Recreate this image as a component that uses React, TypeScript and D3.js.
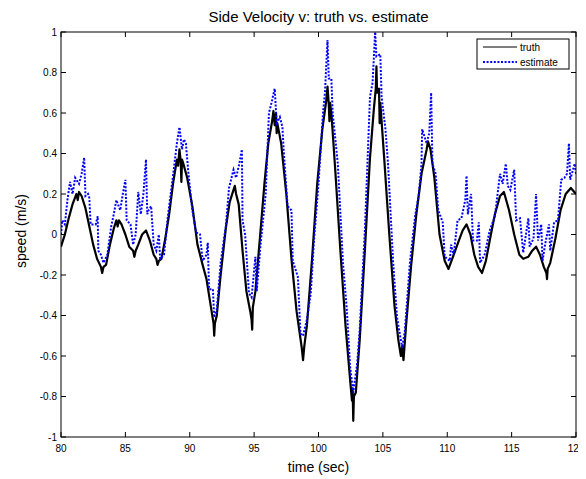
import React from "react";
import * as d3 from "d3";

const truthT = [80.0,80.3,80.6,80.9,81.2,81.3,81.4,81.6,81.9,82.2,82.5,82.8,83.1,83.2,83.3,83.5,83.8,84.1,84.3,84.4,84.5,84.7,85.0,85.3,85.6,85.7,85.8,86.0,86.3,86.6,86.9,87.2,87.4,87.5,87.6,87.8,88.1,88.4,88.7,89.0,89.1,89.2,89.3,89.35,89.4,89.5,89.8,90.2,90.6,91.0,91.3,91.6,91.85,91.9,91.95,92.1,92.4,92.8,93.1,93.4,93.5,93.6,93.8,94.1,94.4,94.7,94.8,94.85,94.9,95.1,95.5,95.8,96.1,96.4,96.5,96.6,96.7,96.75,96.8,97.1,97.5,97.9,98.3,98.7,98.8,98.9,99.1,99.5,99.9,100.3,100.6,100.7,100.8,100.85,100.9,101.0,101.3,101.7,102.1,102.5,102.6,102.65,102.7,102.75,102.9,103.2,103.6,104.0,104.3,104.45,104.5,104.55,104.7,104.75,104.8,105.1,105.5,105.9,106.2,106.4,106.5,106.6,106.8,107.2,107.6,108.0,108.4,108.5,108.7,109.0,109.4,109.8,110.1,110.5,110.9,111.2,111.5,111.8,112.1,112.4,112.7,113.0,113.3,113.7,114.1,114.4,114.8,115.2,115.6,115.9,116.3,116.6,116.9,117.2,117.5,117.7,117.75,117.8,118.0,118.4,118.8,119.2,119.6,120.0];
const truthV = [-0.06,0.0,0.08,0.15,0.2,0.17,0.21,0.19,0.13,0.04,-0.05,-0.12,-0.16,-0.19,-0.16,-0.15,-0.05,0.03,0.07,0.04,0.07,0.05,0.0,-0.06,-0.08,-0.11,-0.08,-0.05,0.0,0.02,-0.03,-0.1,-0.12,-0.15,-0.13,-0.12,-0.02,0.1,0.25,0.37,0.34,0.42,0.36,0.26,0.37,0.35,0.28,0.14,-0.05,-0.15,-0.22,-0.34,-0.44,-0.5,-0.44,-0.4,-0.2,0.03,0.16,0.22,0.24,0.2,0.15,-0.08,-0.28,-0.38,-0.42,-0.47,-0.36,-0.28,0.02,0.25,0.45,0.56,0.61,0.54,0.6,0.5,0.55,0.45,0.2,-0.12,-0.38,-0.56,-0.62,-0.55,-0.45,-0.12,0.25,0.52,0.66,0.73,0.64,0.56,0.65,0.6,0.32,-0.08,-0.45,-0.75,-0.82,-0.76,-0.92,-0.8,-0.78,-0.52,-0.08,0.38,0.62,0.72,0.83,0.7,0.72,0.55,0.65,0.38,0.0,-0.35,-0.52,-0.6,-0.55,-0.62,-0.45,-0.15,0.1,0.3,0.42,0.46,0.42,0.28,0.0,-0.13,-0.17,-0.1,-0.03,0.02,0.05,0.0,-0.1,-0.16,-0.19,-0.13,-0.03,0.1,0.19,0.21,0.12,0.0,-0.1,-0.12,-0.11,-0.08,-0.06,-0.1,-0.16,-0.19,-0.22,-0.17,-0.14,-0.02,0.12,0.2,0.23,0.2];

const estT = [80.0,80.1,80.3,80.5,80.7,80.9,81.1,81.4,81.6,81.8,81.9,82.1,82.2,82.3,82.7,82.85,82.9,83.1,83.3,83.6,83.9,84.1,84.3,84.6,84.8,85.0,85.1,85.4,85.6,85.8,86.0,86.2,86.4,86.6,86.7,86.8,87.0,87.2,87.4,87.6,87.7,88.0,88.3,88.7,89.0,89.2,89.4,89.55,89.7,89.9,90.2,90.5,90.8,91.0,91.3,91.4,91.5,91.8,91.9,92.1,92.4,92.8,93.05,93.4,93.6,93.85,94.05,94.1,94.3,94.6,94.8,95.1,95.2,95.5,95.9,96.15,96.35,96.6,96.75,97.0,97.2,97.3,97.6,97.9,98.0,98.4,98.6,98.8,99.1,99.4,99.65,100.0,100.35,100.5,100.7,100.8,101.0,101.1,101.5,101.9,102.2,102.45,102.7,103.0,103.2,103.6,104.0,104.2,104.4,104.5,104.8,104.9,105.2,105.4,105.8,106.1,106.5,106.7,107.1,107.5,107.8,108.0,108.05,108.4,108.6,108.75,108.85,109.1,109.3,109.65,109.8,110.2,110.3,110.5,110.8,111.1,111.4,111.5,111.6,111.85,112.0,112.3,112.45,112.55,112.9,113.3,113.7,114.1,114.3,114.55,114.7,114.9,115.2,115.35,115.65,115.9,116.3,116.4,116.7,116.9,117.05,117.3,117.4,117.6,117.9,118.0,118.3,118.6,118.85,119.1,119.3,119.45,119.55,119.9,120.0];
const estV = [0.0,0.07,0.05,0.17,0.26,0.2,0.28,0.25,0.3,0.38,0.19,0.2,0.18,0.05,0.05,0.09,-0.08,-0.1,-0.14,-0.1,0.04,0.1,0.17,0.12,0.2,0.27,0.07,0.05,-0.05,0.0,0.21,0.1,0.2,0.37,0.1,0.12,0.14,-0.05,-0.08,0.0,-0.12,-0.1,0.09,0.29,0.45,0.53,0.42,0.47,0.45,0.3,0.12,0.01,0.0,-0.13,-0.1,-0.04,-0.27,-0.27,-0.41,-0.37,-0.14,0.04,0.23,0.32,0.28,0.35,0.42,0.07,0.0,-0.29,-0.31,-0.11,-0.28,-0.05,0.2,0.6,0.65,0.72,0.55,0.58,0.53,0.41,0.14,0.12,-0.13,-0.21,-0.49,-0.5,-0.42,-0.29,-0.03,0.25,0.6,0.7,0.96,0.77,0.77,0.6,0.35,-0.14,-0.37,-0.65,-0.78,-0.64,-0.47,0.02,0.68,0.75,1.0,0.88,0.89,0.68,0.52,0.35,-0.14,-0.41,-0.56,-0.48,-0.14,0.09,0.2,0.35,0.52,0.45,0.5,0.7,0.35,0.3,0.12,0.06,-0.11,-0.13,-0.05,-0.1,0.07,0.08,0.17,0.29,0.1,0.2,-0.03,-0.03,0.06,-0.14,-0.1,0.02,0.09,0.3,0.25,0.35,0.24,0.22,0.32,0.07,0.08,-0.09,0.08,-0.06,-0.02,0.2,-0.03,0.05,-0.13,-0.05,0.05,-0.08,0.06,0.07,0.27,0.28,0.3,0.45,0.27,0.35,0.3];

const xTicks = [80, 85, 90, 95, 100, 105, 110, 115, 120];
const yTicks = [-1, -0.8, -0.6, -0.4, -0.2, 0, 0.2, 0.4, 0.6, 0.8, 1];
const legendLabels = ["truth", "estimate"];

const W = 586, H = 479;
const L = 61, R = 576, T = 32, B = 437;
const FONT = "'Liberation Sans', Arial, Helvetica, sans-serif";

export default function App() {
  const x = d3.scaleLinear().domain([80, 120]).range([L, R]);
  const y = d3.scaleLinear().domain([-1, 1]).range([B, T]);
  const line = d3.line<[number, number]>().x(d => x(d[0])).y(d => y(d[1]));
  const truth = truthT.map((t, i) => [t, truthV[i]] as [number, number]);
  const est = estT.map((t, i) => [t, estV[i]] as [number, number]);
  const tl = 5;
  return (
    <svg width={W} height={H} style={{ position: "absolute", left: 0, top: 0, background: "#fff" }} fontFamily={FONT}>
      <rect x={0} y={0} width={W} height={H} fill="#fff" />
      <defs>
        <clipPath id="plot"><rect x={L} y={T} width={R - L} height={B - T} /></clipPath>
        <clipPath id="page"><rect x={0} y={0} width={578} height={H} /></clipPath>
      </defs>
      <g clipPath="url(#plot)">
        <path d={line(truth) || ""} fill="none" stroke="#000" strokeWidth={2.2} strokeLinejoin="round" />
        <path d={line(est) || ""} fill="none" stroke="#0000ff" strokeWidth={2} strokeDasharray="2,1.6" />
      </g>
      <rect x={L} y={T} width={R - L} height={B - T} fill="none" stroke="#000" strokeWidth={1} />
      <g clipPath="url(#page)">
        {xTicks.map(t => (
          <g key={"x" + t}>
            <line x1={x(t)} x2={x(t)} y1={B} y2={B - tl} stroke="#000" />
            <line x1={x(t)} x2={x(t)} y1={T} y2={T + tl} stroke="#000" />
            <text x={x(t)} y={B + 15} fontSize={10} textAnchor="middle" fill="#000">{t}</text>
          </g>
        ))}
      </g>
      {yTicks.map(v => (
        <g key={"y" + v}>
          <line x1={L} x2={L + tl} y1={y(v)} y2={y(v)} stroke="#000" />
          <line x1={R} x2={R - tl} y1={y(v)} y2={y(v)} stroke="#000" />
          <text x={L - 4} y={y(v) + 3.5} fontSize={10} textAnchor="end" fill="#000">{String(v)}</text>
        </g>
      ))}
      <text x={(L + R) / 2} y={22} fontSize={15} textAnchor="middle" fill="#000">Side Velocity v: truth vs. estimate</text>
      <text x={(L + R) / 2} y={472} fontSize={14} textAnchor="middle" fill="#000">time (sec)</text>
      <text transform={`translate(26,231) rotate(-90)`} fontSize={14} textAnchor="middle" fill="#000">speed (m/s)</text>
      <g>
        <rect x={477} y={39} width={92} height={30} fill="#fff" stroke="#000" strokeWidth={1} />
        <line x1={483} x2={517} y1={47} y2={47} stroke="#000" strokeWidth={1} />
        <text x={520} y={50.5} fontSize={10} fill="#000">{legendLabels[0]}</text>
        <line x1={483} x2={517} y1={62} y2={62} stroke="#0000ff" strokeWidth={2} strokeDasharray="2,1.6" />
        <text x={520} y={65.5} fontSize={10} fill="#000">{legendLabels[1]}</text>
      </g>
    </svg>
  );
}
